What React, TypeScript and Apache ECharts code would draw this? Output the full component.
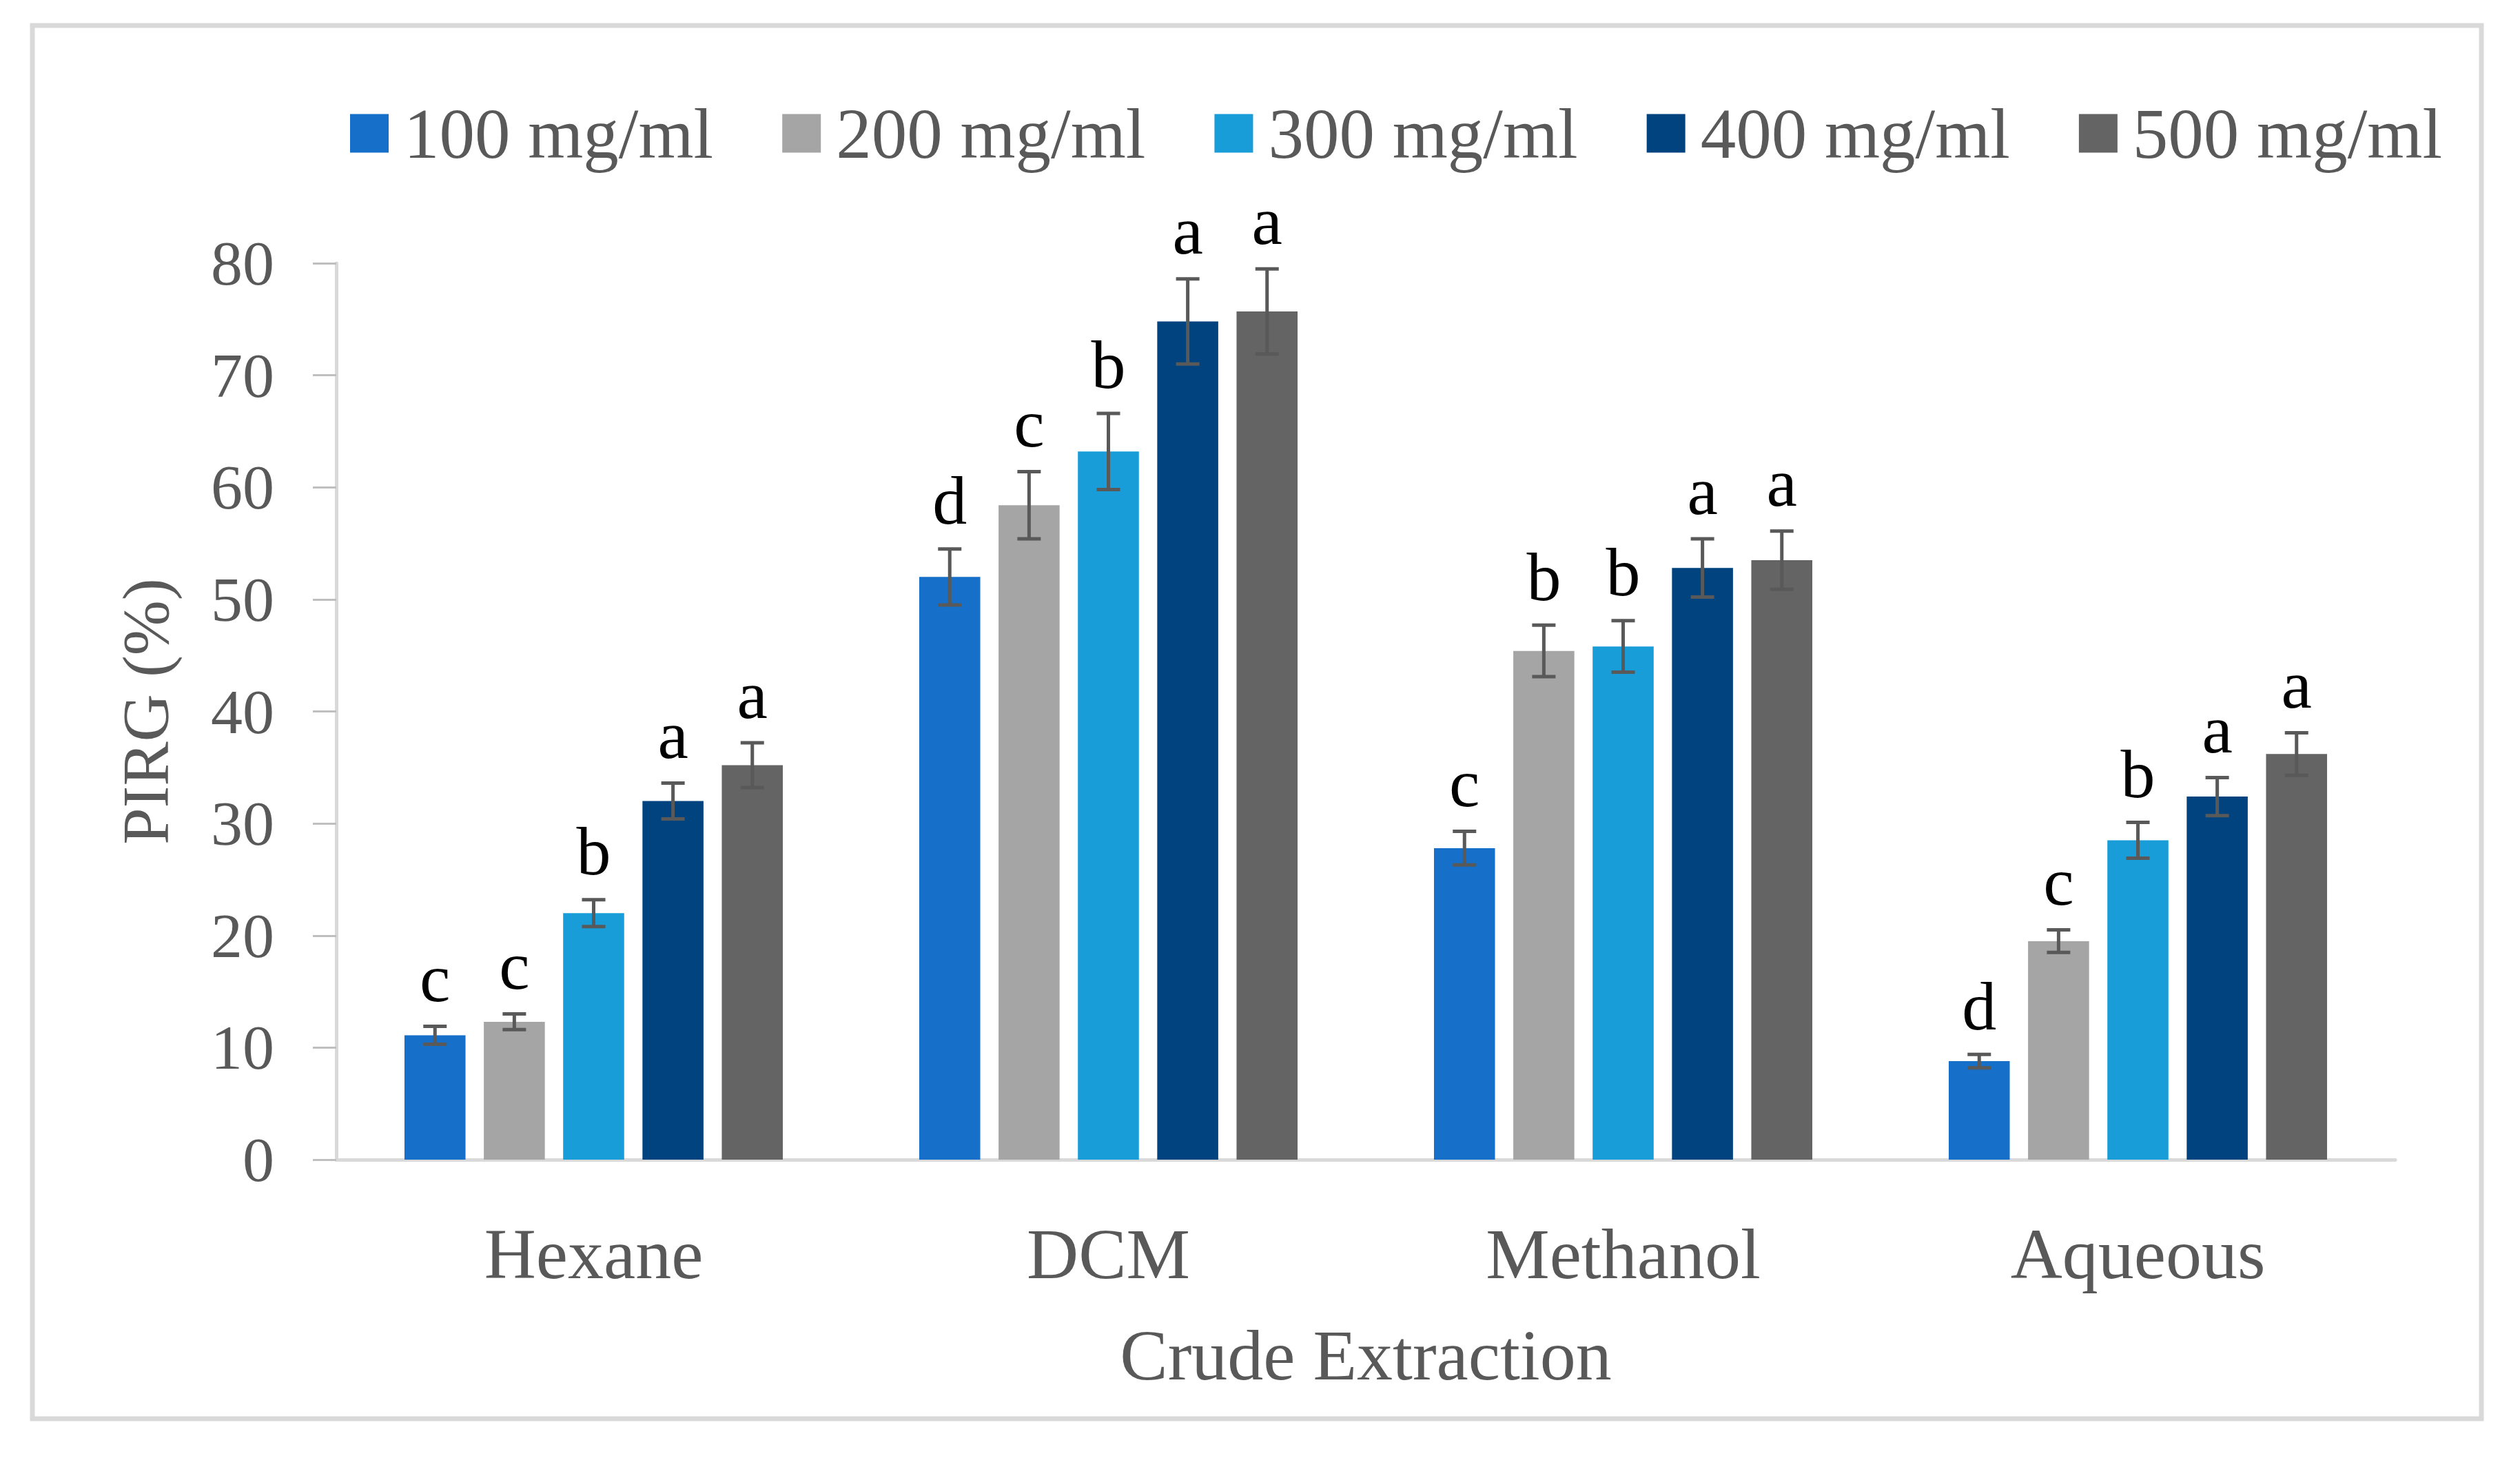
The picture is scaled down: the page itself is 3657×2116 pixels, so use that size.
import React, { useEffect, useRef } from "react";
import * as echarts from "echarts";

const categories = ["Hexane", "DCM", "Methanol", "Aqueous"];
const seriesNames = ["100 mg/ml", "200 mg/ml", "300 mg/ml", "400 mg/ml", "500 mg/ml"];
const colors = ["#1670c9", "#a5a5a5", "#189dd9", "#00437f", "#646464"];

const v100 = [11.1, 52.0, 27.8, 8.8];
const v200 = [12.3, 58.4, 45.4, 19.5];
const v300 = [22.0, 63.2, 45.8, 28.5];
const v400 = [32.0, 74.8, 52.8, 32.4];
const v500 = [35.2, 75.7, 53.5, 36.2];

const e100 = [0.8, 2.5, 1.5, 0.6];
const e200 = [0.7, 3.0, 2.3, 1.0];
const e300 = [1.2, 3.4, 2.3, 1.6];
const e400 = [1.6, 3.8, 2.6, 1.7];
const e500 = [2.0, 3.8, 2.6, 1.9];

const l100 = ["c", "d", "c", "d"];
const l200 = ["c", "c", "b", "c"];
const l300 = ["b", "b", "b", "b"];
const l400 = ["a", "a", "a", "a"];
const l500 = ["a", "a", "a", "a"];

const yTicks = { min: 0, max: 80, interval: 10 };

const values = [v100, v200, v300, v400, v500];
const errors = [e100, e200, e300, e400, e500];
const letters = [l100, l200, l300, l400, l500];

const CAT_GAP = 0.265;
const BAR_GAP = 0.3;
const FONT = "Liberation Serif";

export default function App() {
  const ref = useRef<HTMLDivElement>(null);
  useEffect(() => {
    document.body.style.margin = "0";
    const chart = echarts.init(ref.current!, null, { renderer: "svg" });
    const n = seriesNames.length;
    const barSeries = seriesNames.map((name, i) => ({
      name,
      type: "bar",
      data: values[i],
      itemStyle: { color: colors[i] },
      barGap: BAR_GAP * 100 + "%",
      barCategoryGap: CAT_GAP * 100 + "%",
    }));
    const errSeries = seriesNames.map((name, si) => ({
      name: "err " + name,
      type: "custom",
      z: 5,
      data: categories.map((_, ci) => [ci, values[si][ci], errors[si][ci]]),
      renderItem: (params: any, api: any) => {
        const ci = api.value(0);
        const v = api.value(1);
        const e = api.value(2);
        const letter = letters[si][ci];
        const band = api.size([1, 0])[0];
        const group = band * (1 - CAT_GAP);
        const w = group / (n + (n - 1) * BAR_GAP);
        const cx = api.coord([ci, 0])[0] - group / 2 + w / 2 + si * w * (1 + BAR_GAP);
        const yTop = api.coord([ci, v + e])[1];
        const yBot = api.coord([ci, v - e])[1];
        const cap = 17;
        const ls = { stroke: "#595959", lineWidth: 5 };
        return {
          type: "group",
          children: [
            { type: "line", shape: { x1: cx, y1: yTop, x2: cx, y2: yBot }, style: ls },
            { type: "line", shape: { x1: cx - cap, y1: yTop, x2: cx + cap, y2: yTop }, style: ls },
            { type: "line", shape: { x1: cx - cap, y1: yBot, x2: cx + cap, y2: yBot }, style: ls },
            {
              type: "text",
              style: {
                text: letter,
                x: cx,
                y: yTop - 20,
                align: "center",
                verticalAlign: "bottom",
                fill: "#000000",
                fontSize: 100,
                fontFamily: FONT,
              },
            },
          ],
        };
      },
    }));
    chart.setOption({
      animation: false,
      backgroundColor: "#ffffff",
      textStyle: { fontFamily: FONT },
      graphic: [
        {
          type: "rect",
          shape: { x: 47, y: 37, width: 3554, height: 2022 },
          style: { fill: "none", stroke: "#d9d9d9", lineWidth: 7 },
          silent: true,
        },
      ],
      legend: {
        data: seriesNames,
        left: 508,
        top: 142,
        padding: 0,
        itemWidth: 56,
        itemHeight: 56,
        itemGap: 100,
        icon: "rect",
        textStyle: { fontSize: 103, color: "#595959", fontFamily: FONT, padding: [0, 0, 0, 17] },
      },
      grid: { left: 488, right: 181, top: 382, bottom: 433 },
      xAxis: {
        type: "category",
        data: categories,
        name: "Crude Extraction",
        nameLocation: "middle",
        nameGap: 231,
        nameTextStyle: { fontSize: 104, color: "#595959", fontFamily: FONT },
        axisLine: { show: true, lineStyle: { color: "#d9d9d9", width: 5 } },
        axisTick: { show: false },
        axisLabel: { fontSize: 104, color: "#595959", margin: 84, fontFamily: FONT },
      },
      yAxis: {
        type: "value",
        min: yTicks.min,
        max: yTicks.max,
        interval: yTicks.interval,
        name: "PIRG (%)",
        nameLocation: "middle",
        nameGap: 229,
        nameTextStyle: { fontSize: 96, color: "#595959", fontFamily: FONT },
        axisLine: { show: true, lineStyle: { color: "#d9d9d9", width: 5 } },
        axisTick: { show: true, length: 34, lineStyle: { color: "#bfbfbf", width: 3 } },
        splitLine: { show: false },
        axisLabel: { fontSize: 92, color: "#595959", margin: 90, fontFamily: FONT },
      },
      series: [...barSeries, ...errSeries],
    });
    return () => chart.dispose();
  }, []);
  return <div ref={ref} style={{ width: 3657, height: 2116 }} />;
}
